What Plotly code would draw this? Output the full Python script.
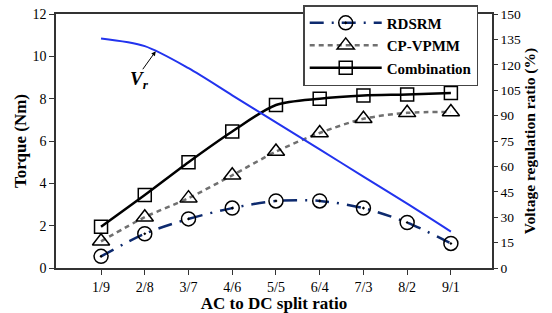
import plotly.graph_objects as go

categories = ["1/9", "2/8", "3/7", "4/6", "5/5", "6/4", "7/3", "8/2", "9/1"]
rdsrm = [0.55, 1.62, 2.32, 2.83, 3.17, 3.17, 2.83, 2.15, 1.16]
cpvpmm = [1.26, 2.4, 3.3, 4.38, 5.5, 6.38, 7.05, 7.33, 7.37]
combination = [1.95, 3.45, 5.0, 6.45, 7.7, 8.0, 8.15, 8.2, 8.27]
vr = [135.5, 131, 118, 102, 86, 70, 54, 38, 21.5]

x = list(range(len(categories)))
FONT = "Liberation Serif"

fig = go.Figure()
fig.add_trace(go.Scatter(
    x=x, y=vr, yaxis="y2", mode="lines", showlegend=False,
    line=dict(color="#2233ee", width=2, shape="spline", smoothing=0.8)))
fig.add_trace(go.Scatter(
    x=x, y=rdsrm, name="<b>RDSRM</b>", mode="lines+markers",
    line=dict(color="#0d2a6e", width=2.5, dash="14px,8px,2px,8px", shape="spline", smoothing=0.8),
    marker=dict(symbol="circle-open-dot", size=14, color="black", line=dict(width=1.5, color="black"))))
fig.add_trace(go.Scatter(
    x=x, y=cpvpmm, name="<b>CP-VPMM</b>", mode="lines+markers",
    line=dict(color="#707070", width=2.5, dash="5px,4px", shape="spline", smoothing=0.8),
    marker=dict(symbol="triangle-up-open", size=15, color="black", line=dict(width=1.5, color="black"))))
fig.add_trace(go.Scatter(
    x=x, y=combination, name="<b>Combination</b>", mode="lines+markers",
    line=dict(color="black", width=2.5, shape="spline", smoothing=0.8),
    marker=dict(symbol="square-open", size=13, color="black", line=dict(width=1.5, color="black"))))

fig.add_annotation(
    x=1.25, y=128, xref="x", yref="y2", ax=0.93, ay=116.5, axref="x", ayref="y2",
    text="", showarrow=True, arrowhead=2, arrowsize=0.9, arrowwidth=1, arrowcolor="black")
fig.add_annotation(
    x=0.88, y=111, xref="x", yref="y2", showarrow=False,
    text="<b><i>V<sub>r</sub></i></b>", font=dict(family=FONT, size=19, color="black"))

fig.update_layout(
    width=552, height=313,
    margin=dict(l=56, r=60, t=14, b=45, autoexpand=False),
    plot_bgcolor="white", paper_bgcolor="white",
    font=dict(family=FONT, size=14, color="black"),
    xaxis=dict(
        range=[-1.03, 8.94], tickmode="array", tickvals=x, ticktext=categories,
        showline=True, linecolor="#333333", linewidth=1.5, mirror=True,
        ticks="outside", ticklen=5, tickcolor="#333333", showgrid=False, zeroline=False,
        tickfont=dict(family=FONT, size=14),
        title=dict(text="<b>AC to DC split ratio</b>", font=dict(family=FONT, size=17), standoff=4)),
    yaxis=dict(
        range=[0, 12], dtick=2, showline=True, linecolor="#333333", linewidth=1.5,
        ticks="outside", ticklen=5, tickcolor="#333333", showgrid=False, zeroline=False,
        tickfont=dict(family=FONT, size=14),
        title=dict(text="<b>Torque (Nm)</b>", font=dict(family=FONT, size=17), standoff=2)),
    yaxis2=dict(
        range=[0, 150], dtick=15, overlaying="y", side="right",
        showline=True, linecolor="#333333", linewidth=1.5,
        ticks="outside", ticklen=4, tickcolor="#333333", showgrid=False, zeroline=False,
        tickfont=dict(family=FONT, size=13.5),
        title=dict(text="<b>Voltage regulation ratio (%)</b>", font=dict(family=FONT, size=15.5), standoff=0)),
    legend=dict(
        x=0.567, y=1.035, xanchor="left", yanchor="top",
        bgcolor="white", bordercolor="#444444", borderwidth=1.5,
        font=dict(family=FONT, size=15, color="black"),
        itemwidth=72, tracegroupgap=0),
)

fig.write_html("out.html", config={"displayModeBar": False},
               post_script="document.body.style.margin='0px';")
